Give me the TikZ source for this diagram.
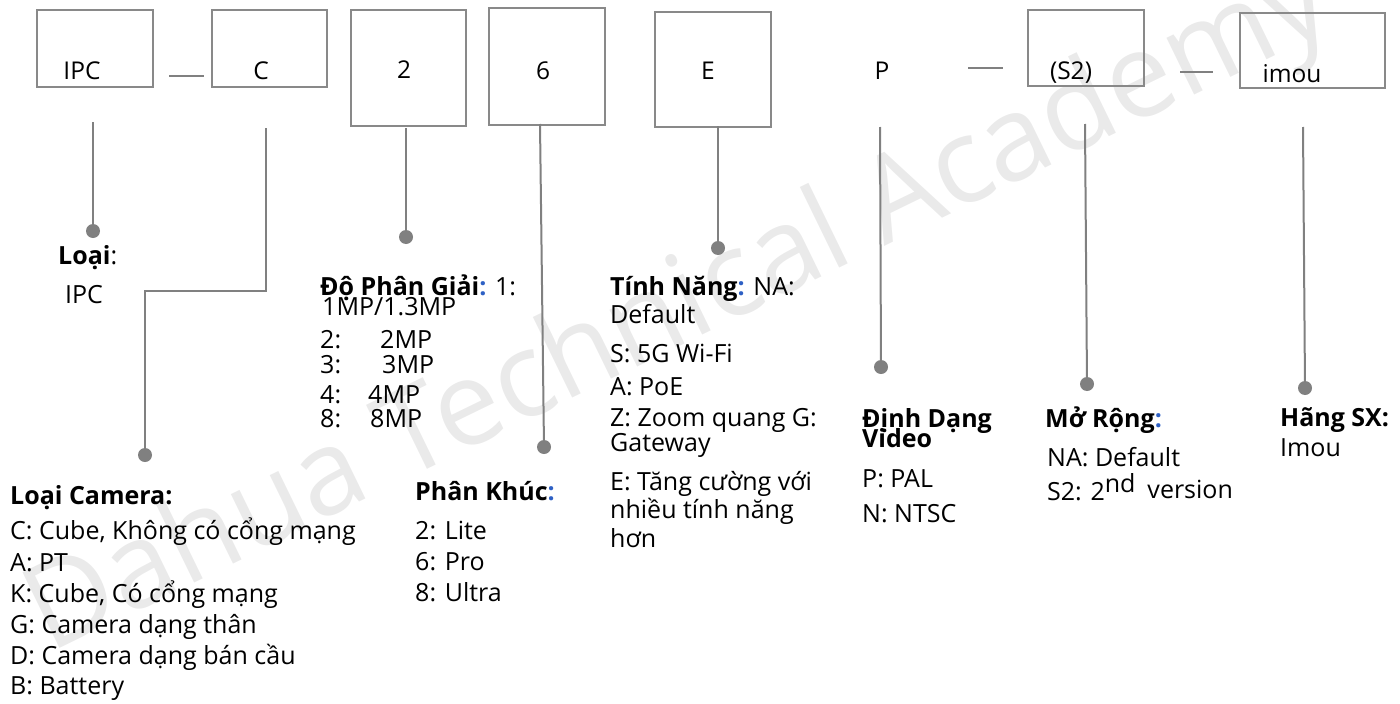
\documentclass[tikz,border=0pt]{standalone}
\usepackage{fontspec}
\setmainfont{Open Sans}
\usepackage{xcolor}
\definecolor{framegray}{RGB}{137,137,137}
\definecolor{stemgray}{RGB}{128,128,128}
\definecolor{colonblue}{RGB}{46,96,196}
\definecolor{markgray}{RGB}{234,234,234}
\newcommand{\bluecolon}{\textcolor{colonblue}{\bfseries:}}

\begin{document}
\begin{tikzpicture}[
    x=1pt, y=-1pt,
    codebox/.style={rectangle, draw=framegray, line width=1.6pt, anchor=north west, inner sep=0pt},
    codetxt/.style={anchor=base, inner sep=0pt, font=\fontsize{24.5}{29}\selectfont},
    txt/.style={anchor=base west, inner sep=0pt, font=\fontsize{25}{29}\selectfont},
    stem/.style={draw=stemgray, line width=2pt},
    knob/.style={circle, fill=stemgray, minimum size=14pt, inner sep=0pt},
    watermark/.style={font=\fontsize{118}{118}\selectfont, text=markgray, rotate=26, inner sep=0pt},
]
    \useasboundingbox (0,0) rectangle (1400,704);
    \node[watermark] (wm) at (680,312) {Dahua Technical Academy};

    % code boxes
    \node[codebox, minimum width=116pt, minimum height=77pt] (ipc) at (36,9) {};
    \node[codebox, minimum width=115pt, minimum height=77pt] (cam) at (211,9) {};
    \node[codebox, minimum width=115pt, minimum height=116pt] (res) at (350,9) {};
    \node[codebox, minimum width=116pt, minimum height=117pt] (seg) at (488,7) {};
    \node[codebox, minimum width=116pt, minimum height=115pt] (feat) at (654,11) {};
    \node[codebox, minimum width=116pt, minimum height=76pt] (ext) at (1027,9) {};
    \node[codebox, minimum width=145pt, minimum height=75pt] (brand) at (1239,12) {};

    \node[codetxt] (ipc-t) at (82,79) {IPC};
    \node[codetxt] (cam-t) at (261,79) {C};
    \node[codetxt] (res-t) at (404,78) {2};
    \node[codetxt] (seg-t) at (543,79) {6};
    \node[codetxt] (feat-t) at (708,79) {E};
    \node[codetxt] (vid-t) at (882,79) {P};
    \node[codetxt] (ext-t) at (1071,79) {(S2)};
    \node[codetxt] (brand-t) at (1292,82) {imou};

    % dashes
    \coordinate (da1) at (169,76); \coordinate (db1) at (204,76);
    \coordinate (da2) at (968,68); \coordinate (db2) at (1003,68);
    \coordinate (da3) at (1180,72); \coordinate (db3) at (1213,72);
    \foreach \i in {1,2,3}
        \draw[stem, line width=1.5pt] (da\i) -- (db\i);

    % stems
    \coordinate (s1) at (93,122);   \node[knob] (k1) at (93,231) {};
    \coordinate (s2) at (266,128);  \coordinate (j2) at (145,291); \node[knob] (k2) at (145,455) {};
    \coordinate (s3) at (406,128);  \node[knob] (k3) at (406,237) {};
    \coordinate (s4) at (540,124);  \node[knob] (k4) at (544,447) {};
    \coordinate (s5) at (718,126);  \node[knob] (k5) at (718,248) {};
    \coordinate (s6) at (880,127);  \node[knob] (k6) at (881,367) {};
    \coordinate (s7) at (1085,124); \node[knob] (k7) at (1087,384) {};
    \coordinate (s8) at (1303,127); \node[knob] (k8) at (1305,388) {};
    \draw[stem] (s2) |- (j2) -- (k2);
    \foreach \i in {1,3,4,5,6,7,8}
        \draw[stem] (s\i) -- (k\i);

    % labels
    \node[txt] (type-h) at (58,264) {\textbf{Loại}:};
    \node[txt] (type-1) at (65,303) {IPC};

    \node[txt] (cam-h) at (10,504) {\textbf{Loại Camera:}};
    \foreach \y/\t [count=\i] in {539/{C: Cube, Không có cổng mạng}, 571/{A: PT}, 602/{K: Cube, Có cổng mạng}, 633/{G: Camera dạng thân}, 664/{D: Camera dạng bán cầu}, 694/{B: Battery}}
        \node[txt] (cam-\i) at (10,\y) {\t};

    \node[txt] (res-h) at (320,295) {\textbf{Độ Phân Giải}\bluecolon{} 1:};
    \node[txt] (res-1) at (322,315) {1MP/1.3MP};
    \node[txt] (res-2) at (320,348) {\makebox[60pt][l]{2:}2MP};
    \node[txt] (res-3) at (320,373) {\makebox[62pt][l]{3:}3MP};
    \node[txt] (res-4) at (320,403) {\makebox[48pt][l]{4:}4MP};
    \node[txt] (res-8) at (320,427) {\makebox[50pt][l]{8:}8MP};

    \node[txt] (seg-h) at (415,500) {\textbf{Phân Khúc}\bluecolon};
    \foreach \y/\t [count=\i] in {539/{2: Lite}, 570/{6: Pro}, 601/{8: Ultra}}
        \node[txt] (seg-\i) at (415,\y) {\t};

    \node[txt] (feat-h) at (610,295) {\textbf{Tính Năng}\bluecolon{} NA:};
    \foreach \y/\t [count=\i] in {323/{Default}, 362/{S: 5G Wi-Fi}, 395/{A: PoE}, 426/{Z: Zoom quang G:}, 451/{Gateway}, 490/{E: Tăng cường với}, 518/{nhiều tính năng}, 547/{hơn}}
        \node[txt] (feat-\i) at (610,\y) {\t};

    \node[txt] (vid-h) at (862,427) {\textbf{Định Dạng}};
    \node[txt] (vid-h2) at (862,447) {\textbf{Video}};
    \node[txt] (vid-1) at (862,487) {P: PAL};
    \node[txt] (vid-2) at (862,522) {N: NTSC};

    \node[txt] (ext-h) at (1045,427) {\textbf{Mở Rộng}\bluecolon};
    \node[txt] (ext-1) at (1047,466) {NA: Default};
    \node[txt] (ext-2) at (1047,500) {S2: 2\raisebox{8pt}{nd}\hspace{12pt}\raisebox{2pt}{version}};

    \node[txt] (brand-h) at (1280,426) {\textbf{Hãng SX:}};
    \node[txt] (brand-1) at (1280,456) {Imou};
\end{tikzpicture}
\end{document}
